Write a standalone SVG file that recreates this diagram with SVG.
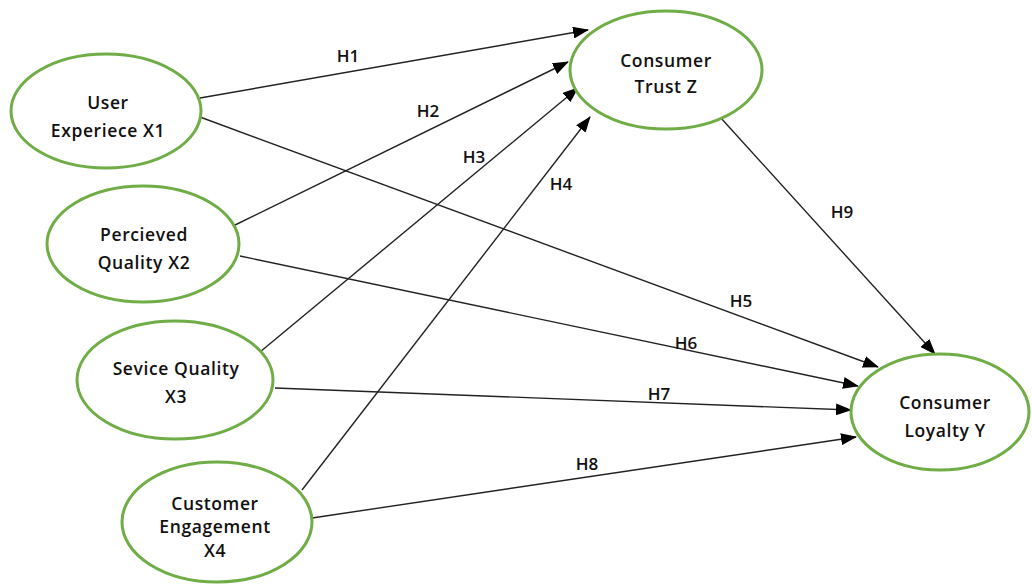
<svg xmlns="http://www.w3.org/2000/svg" width="1032" height="585" viewBox="0 0 1032 585">
<style>
.n{fill:#fff;stroke:#70AD47;stroke-width:3}
.t{font-family:"Open Sans","Liberation Sans",sans-serif;font-size:17.5px;font-weight:600;fill:#111;text-anchor:middle;letter-spacing:0.6px}
.l{font-family:"Open Sans","Liberation Sans",sans-serif;font-size:17px;font-weight:600;fill:#111;text-anchor:middle}
.c{stroke:#222;stroke-width:1.4;fill:none;marker-end:url(#a)}
</style>
<defs>
<marker id="a" markerWidth="16" markerHeight="12" refX="15" refY="6" orient="auto" markerUnits="userSpaceOnUse">
<path d="M0,0 L16,6 L0,12 Z" fill="#000"/>
</marker>
</defs>
<rect width="1032" height="585" fill="#fff"/>
<g id="connectors">
<line class="c" x1="200" y1="98" x2="588" y2="30"/>
<line class="c" x1="233" y1="226" x2="568" y2="62"/>
<line class="c" x1="260" y1="352" x2="578" y2="88"/>
<line class="c" x1="302" y1="490" x2="590" y2="117"/>
<line class="c" x1="200" y1="117" x2="878" y2="367"/>
<line class="c" x1="240" y1="256" x2="858" y2="386"/>
<line class="c" x1="275" y1="388" x2="851" y2="410"/>
<line class="c" x1="312" y1="518" x2="856" y2="437"/>
<line class="c" x1="720" y1="117" x2="935" y2="354"/>
<text class="l" x="348" y="62">H1</text>
<text class="l" x="428" y="117">H2</text>
<text class="l" x="474" y="163">H3</text>
<text class="l" x="561" y="190">H4</text>
<text class="l" x="741" y="307">H5</text>
<text class="l" x="686" y="349">H6</text>
<text class="l" x="659" y="400">H7</text>
<text class="l" x="587" y="470">H8</text>
<text class="l" x="842" y="218">H9</text>
</g>
<g id="x1"><ellipse class="n" cx="106" cy="111" rx="95" ry="57"/><text class="t" x="108" y="109">User</text><text class="t" x="108" y="137">Experiece X1</text></g>
<g id="x2"><ellipse class="n" cx="143" cy="244" rx="96" ry="58"/><text class="t" x="144" y="241">Percieved</text><text class="t" x="144" y="269">Quality X2</text></g>
<g id="x3"><ellipse class="n" cx="175" cy="380" rx="98" ry="59"/><text class="t" x="176" y="375">Sevice Quality</text><text class="t" x="176" y="403">X3</text></g>
<g id="x4"><ellipse class="n" cx="217" cy="522" rx="95" ry="60"/><text class="t" x="215" y="510">Customer</text><text class="t" x="215" y="533">Engagement</text><text class="t" x="215" y="557">X4</text></g>
<g id="z"><ellipse class="n" cx="666" cy="70" rx="96" ry="59"/><text class="t" x="666" y="67">Consumer</text><text class="t" x="666" y="93">Trust Z</text></g>
<g id="y"><ellipse class="n" cx="940" cy="412" rx="89" ry="58"/><text class="t" x="945" y="409">Consumer</text><text class="t" x="945" y="437">Loyalty Y</text></g>
</svg>
